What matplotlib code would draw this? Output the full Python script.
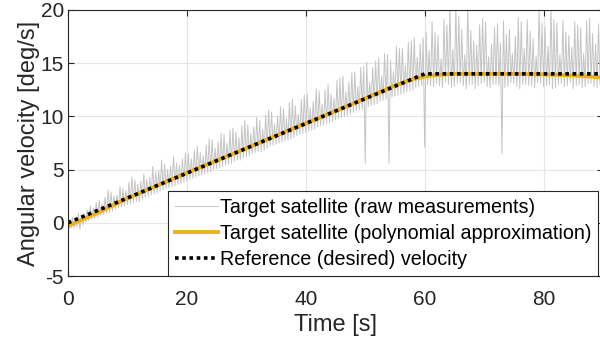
import numpy as np
import matplotlib
matplotlib.use("Agg")
import matplotlib.pyplot as plt

plt.rcParams['font.family'] = ['Liberation Sans', 'DejaVu Sans']
plt.rcParams['axes.unicode_minus'] = False

# raw measurements, four samples per second:
# low sample at t, spike at t+0.25, low sample at t+0.5, spike at t+0.75
raw_low = [-0.6, -0.5, -0.6, 0.1, 0.3, 0.5, 0.8, 1.0, 1.3, 1.5,
           1.7, 1.9, 2.0, 2.4, 2.6, 2.8, 3.1, 3.3, 3.5, 3.7,
           3.9, 4.2, 4.4, 4.6, 4.8, 5.1, 5.3, 5.5, 5.8, 5.9,
           6.2, 6.5, 6.7, 6.8, 7.2, 7.4, 7.6, 7.8, 8.0, 8.3,
           8.5, 8.7, 9.0, 9.2, 9.4, 9.7, 9.9, 10.1, 10.4, 10.6,
           5.6, 11.0, 11.2, 11.5, 5.6, 11.9, 12.1, 12.3, 12.5, 12.8,
           7.1, 12.9, 13.1, 12.7, 13.0, 12.8, 13.2, 12.6, 13.0, 12.9,
           13.2, 12.7, 13.0, 6.5, 12.8, 13.1, 12.6, 13.0, 12.9, 13.2,
           12.8, 13.0, 12.7, 13.1, 12.9, 12.6, 13.0, 12.8, 13.1, 12.7,
           12.9]
raw_low_b = [-0.5, -0.4, -0.2, 0.2, 0.4, 0.7, 0.9, 1.1, 1.4, 1.6,
             1.8, 2.0, 2.2, 2.5, 2.7, 3.0, 3.2, 3.4, 3.6, 3.8,
             4.1, 4.3, 4.5, 4.7, 5.0, 5.2, 5.4, 5.6, 5.9, 6.1,
             6.3, 6.6, 6.7, 7.0, 7.3, 7.5, 7.7, 7.9, 8.2, 8.4,
             8.6, 8.8, 9.1, 9.3, 9.5, 9.8, 10.0, 10.2, 10.5, 10.7,
             10.9, 11.1, 11.4, 11.6, 11.8, 12.0, 12.2, 12.4, 12.7, 12.9,
             13.0, 12.8, 12.9, 13.2, 12.7, 13.1, 12.9, 13.0, 12.6, 13.1,
             12.8, 13.0, 12.9, 12.7, 13.2, 12.8, 13.0, 12.9, 12.7, 13.1,
             12.9, 12.6, 13.0, 12.8, 13.2, 12.9, 12.7, 13.1, 12.8, 13.0]
raw_high = [0.3, 0.4, 0.6, 1.2, 1.4, 2.1, 2.4, 2.9, 2.6, 3.2,
            3.8, 4.0, 3.9, 4.1, 5.3, 4.9, 5.5, 5.3, 5.6, 6.0,
            6.5, 6.8, 6.6, 7.3, 7.8, 7.6, 8.3, 8.7, 8.5, 9.1,
            9.2, 9.0, 9.6, 10.1, 10.4, 10.0, 10.7, 11.3, 11.0, 11.6,
            12.1, 11.4, 12.4, 12.5, 12.1, 13.4, 13.8, 13.2, 14.2, 14.6,
            15.1, 14.6, 15.5, 15.9, 15.3, 16.6, 16.4, 17.0, 17.4, 16.8,
            17.9, 18.9, 17.6, 19.1, 20.5, 20.4, 18.2, 20.6, 17.1, 18.6,
            18.9, 16.8, 18.7, 19.0, 18.2, 17.5, 18.9, 19.1, 17.3, 20.2,
            18.4, 20.3, 18.8, 19.0, 17.6, 18.9, 18.3, 19.0, 17.8, 18.7]
raw_high_b = [0.5, 0.9, 0.8, 1.6, 1.9, 1.8, 3.1, 2.5, 3.4, 3.0,
              4.3, 3.6, 4.6, 4.3, 4.8, 5.9, 5.0, 6.2, 5.4, 6.6,
              6.0, 7.2, 6.3, 7.9, 7.0, 8.4, 7.5, 8.9, 8.0, 9.6,
              8.4, 9.9, 8.8, 10.6, 9.3, 10.9, 9.8, 11.6, 10.2, 12.0,
              10.8, 12.6, 11.1, 13.0, 11.7, 13.6, 12.3, 14.1, 12.8, 14.7,
              13.2, 15.2, 13.8, 15.8, 14.2, 16.4, 14.8, 17.1, 15.6, 17.4,
              16.2, 17.9, 15.4, 18.6, 16.3, 19.4, 15.8, 18.1, 16.7, 19.2,
              15.6, 18.4, 16.9, 17.7, 15.9, 19.3, 16.4, 18.0, 15.7, 18.8,
              16.6, 19.1, 15.8, 17.9, 16.5, 18.6, 15.9, 19.2, 16.8, 18.1]

# polynomial approximation
poly_time = [0, 5, 10, 15, 20, 25, 30, 35, 40, 45, 50, 55, 58, 60, 62, 65, 70, 75, 80, 85, 90]
poly_vel = [-0.3, 0.95, 2.3, 3.5, 4.7, 5.85, 7.0, 8.2, 9.35, 10.5, 11.7, 12.9, 13.5,
            13.75, 13.9, 14.0, 14.0, 14.0, 13.95, 13.85, 13.65]

# reference (desired) velocity
ref_time = [0, 60, 90]
ref_vel = [0, 14, 14]

# put the raw samples in time order
raw_time = []
raw_vel = []
for i in range(len(raw_low)):
    raw_time.append(i)
    raw_vel.append(raw_low[i])
    if i < len(raw_high):
        raw_time += [i + 0.25, i + 0.5, i + 0.75]
        raw_vel += [raw_high[i], raw_low_b[i], raw_high_b[i]]

fig = plt.figure(figsize=(6, 3.45), dpi=100)
ax = fig.add_axes([68/600, 69/345, 535/600, 266/345])

ax.plot(raw_time, raw_vel, color='#c4c4c4', lw=0.7, label='Target satellite (raw measurements)')
ax.plot(poly_time, poly_vel, color='#EDB120', lw=2.8, label='Target satellite (polynomial approximation)')
ax.plot(ref_time, ref_vel, color='black', lw=2.6, ls=(0, (1, 1)), label='Reference (desired) velocity')

ax.set_xlim(0, 90)
ax.set_ylim(-5, 20)
ax.set_xticks([0, 20, 40, 60, 80])
ax.set_yticks([-5, 0, 5, 10, 15, 20])
ax.grid(True, color='#e6e6e6', lw=0.8)
ax.set_axisbelow(True)
ax.tick_params(direction='in', top=True, right=True, labelsize=15, colors='#262626', length=4, pad=3)
ax.tick_params(axis='x', pad=10)
for s in ax.spines.values():
    s.set_color('#262626')
    s.set_linewidth(0.8)

ax.set_xlabel('Time [s]', fontsize=17, color='#262626', labelpad=4)
ax.set_ylabel('Angular velocity [deg/s]', fontsize=17, color='#262626', labelpad=0)

leg = ax.legend(loc='lower right', bbox_to_anchor=(598/600, 69/345), bbox_transform=fig.transFigure,
                fontsize=14.2, frameon=True, fancybox=False, framealpha=1, edgecolor='#262626',
                handlelength=2.15, handletextpad=0.1, labelspacing=0.35, borderpad=0.35, borderaxespad=0)
leg.get_frame().set_linewidth(0.8)

fig.savefig('out.png', dpi=100)
